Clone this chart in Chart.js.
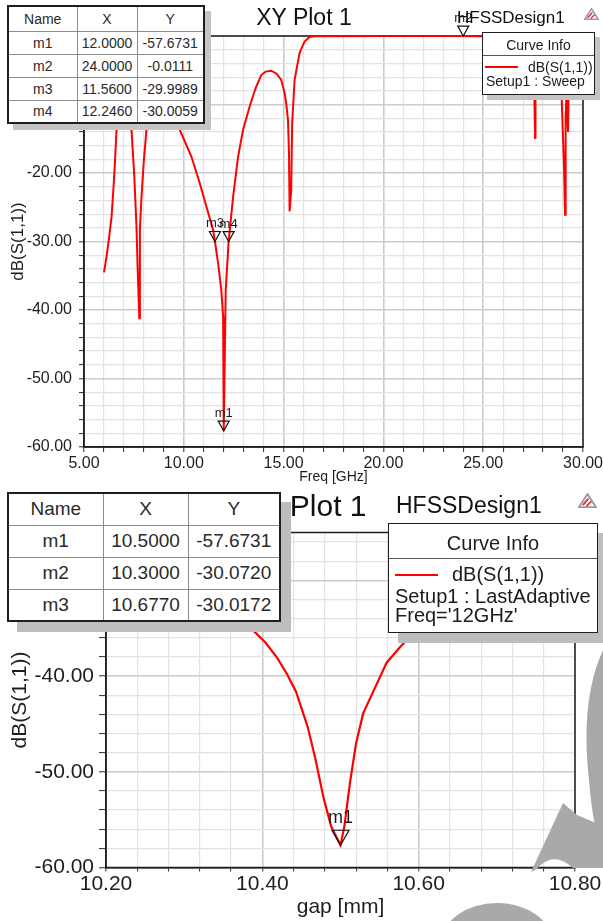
<!DOCTYPE html>
<html>
<head>
<meta charset="utf-8">
<title>HFSS XY Plot 1</title>
<script src="https://cdn.jsdelivr.net/npm/chart.js@4.4.1/dist/chart.umd.min.js"></script>
<style>
  html, body { margin:0; padding:0; background:#fff; }
  body { position:relative; width:603px; height:921px; overflow:hidden;
         font-family:"Liberation Sans", Arial, Helvetica, sans-serif; color:#1c1c1c; }
  canvas { position:absolute; left:0; display:block; }
  .t { position:absolute; white-space:nowrap; line-height:1; z-index:3; }
  .box { position:absolute; box-sizing:border-box; background:#fff; border:1.5px solid #1e1e1e; z-index:2; }
  .hdr { position:absolute; left:0; right:0; top:0; border-bottom:1px solid #555; }
  .tbl { position:absolute; z-index:2; background:#fff; }
  .tbl table { border-collapse:collapse; table-layout:fixed; border:2px solid #1e1e1e; background:#fff; color:#2a2a2a; }
  .tbl td { border:1px solid #8c8c8c; text-align:center; vertical-align:middle; padding:0; white-space:nowrap; }
  .swatch { position:absolute; background:#ff0000; z-index:3; }
</style>
</head>
<body>
<canvas id="topChart" width="603" height="486" style="top:0"></canvas>
<canvas id="botChart" width="603" height="435" style="top:486px"></canvas>

<!-- top plot texts -->
<div class="t" style="left:204px;width:200px;text-align:center;top:5.5px;font-size:23px;color:#111">XY Plot 1</div>
<div class="t" style="left:457px;top:8.9px;font-size:17px;color:#111">HFSSDesign1</div>
<svg style="position:absolute;left:584px;top:8px;z-index:3" width="15" height="12" viewBox="0 0 20 16">
  <polygon points="10,1 19,15 1,15" fill="none" stroke="#9a9a9a" stroke-width="2"/>
  <path d="M5,13 L11,6 M9,14 L14,9" stroke="#e03030" stroke-width="2"/>
</svg>

<div class="tbl" style="left:7px;top:5px;box-shadow:6px 6px 0 #c4c4c4">
  <table id="topTable" style="width:196px;height:117px;font-size:14px">
    <colgroup><col style="width:69px"><col style="width:60px"><col style="width:67px"></colgroup>
  </table>
</div>

<div class="box" style="left:482px;top:32px;width:113px;height:63px;box-shadow:5px 5px 0 #c4c4c4">
  <div class="hdr" style="height:21.5px"></div>
</div>
<div class="t" style="left:482px;width:113px;text-align:center;top:38.2px;font-size:14px">Curve Info</div>
<div class="swatch" style="left:485px;top:65.7px;width:33px;height:2px"></div>
<div class="t" style="left:528px;top:60.2px;font-size:14px">dB(S(1,1))</div>
<div class="t" style="left:486px;top:74.2px;font-size:14px">Setup1 : Sweep</div>

<!-- bottom plot texts -->
<div class="t" style="left:242px;top:491.3px;font-size:30px;color:#111;z-index:1">XY Plot 1</div>
<div class="t" style="left:396px;top:493.8px;font-size:23px;color:#111">HFSSDesign1</div>
<svg style="position:absolute;left:578px;top:493px;z-index:3" width="19" height="15" viewBox="0 0 20 16">
  <polygon points="10,1 19,15 1,15" fill="none" stroke="#9a9a9a" stroke-width="2"/>
  <path d="M5,13 L11,6 M9,14 L14,9" stroke="#e03030" stroke-width="2"/>
</svg>

<div class="tbl" style="left:7px;top:492px;box-shadow:10px 10px 0 #bdbdbd">
  <table id="botTable" style="width:272px;height:128px;font-size:19px">
    <colgroup><col style="width:95px"><col style="width:85px"><col style="width:92px"></colgroup>
  </table>
</div>

<div class="box" style="left:388px;top:523px;width:210px;height:110px;box-shadow:10px 10px 0 #bdbdbd">
  <div class="hdr" style="height:33.5px"></div>
</div>
<div class="t" style="left:388px;width:210px;text-align:center;top:532.8px;font-size:20px">Curve Info</div>
<div class="swatch" style="left:395px;top:573.8px;width:43px;height:2.5px"></div>
<div class="t" style="left:452px;top:563.5px;font-size:20px">dB(S(1,1))</div>
<div class="t" style="left:395px;top:586.4px;font-size:20px">Setup1 : LastAdaptive</div>
<div class="t" style="left:395px;top:604.8px;font-size:20px">Freq='12GHz'</div>

<!-- watermark shapes -->
<svg style="position:absolute;left:0;top:0;z-index:5;pointer-events:none" width="603" height="921">
  <g fill="#a9a9a9">
    <path d="M603,650 Q580,700 589,780 Q593,830 603,852 Z"/>
    <path d="M531,872 L563,803 L577,815 L603,826 L603,868 L573,868 Q553,850 537,869 Z"/>
    <ellipse cx="497" cy="942" rx="55" ry="39"/>
  </g>
</svg>

<script>
// ---------------- top plot: frequency sweep ----------------
const topFreq = [6.00, 6.13, 6.25, 6.38, 6.48, 6.55, 6.63, 6.72, 6.85, 7.00, 7.15, 7.30, 7.38,
  7.52, 7.63, 7.68, 7.77, 7.80, 7.88, 8.00, 8.13, 8.30, 8.60, 9.00, 9.40, 9.80,
  10.38, 10.80, 11.13, 11.47, 11.56, 11.72, 11.88, 11.97, 12.00, 12.10, 12.246, 12.47, 12.72, 12.97,
  13.30, 13.60, 13.88, 14.10, 14.38, 14.65, 14.88, 15.05, 15.13, 15.22, 15.27, 15.30, 15.38, 15.43,
  15.55, 15.80, 16.05, 16.30, 16.50, 20.00, 24.00, 27.50, 27.58, 27.60, 27.62, 27.70,
  28.85, 28.95, 29.05, 29.10, 29.13, 29.17, 29.25, 29.30, 29.50, 30.00];
const topS11 = [-34.5, -32.2, -29.6, -26.4, -22.0, -18.5, -13.7, -9.0, -5.5, -4.8, -7.0, -11.5, -13.7,
  -20.5, -27.8, -33.2, -41.2, -28.3, -23.5, -18.1, -13.7, -9.5, -6.0, -5.5, -7.5, -13.7,
  -17.6, -21.5, -24.9, -28.3, -29.9989, -33.2, -37.1, -41.0, -57.6731, -37.1, -30.0059, -23.5, -17.6, -13.7,
  -10.3, -7.6, -5.7, -5.2, -5.07, -5.5, -6.4, -8.3, -9.8, -12.3, -17.1, -25.6, -22.5, -12.7,
  -6.4, -2.5, -0.8, -0.15, -0.03, -0.01, -0.0111, -0.2, -11.5, -14.9, -3.0, -0.2,
  -0.3, -10.8, -19.1, -26.1, -12.0, -8.6, -14.0, -3.0, -0.4, -0.3];
const topMarkerNames = ['m1', 'm2', 'm3', 'm4'];
const topMarkerX = [12.0, 24.0, 11.56, 12.246];
const topMarkerY = [-57.6731, -0.0111, -29.9989, -30.0059];
const topXTickLabels = ['5.00', '10.00', '15.00', '20.00', '25.00', '30.00'];
const topYTickLabels = ['-60.00', '-50.00', '-40.00', '-30.00', '-20.00', '-10.00', '0.00'];

// ---------------- bottom plot: gap sweep at 12 GHz ----------------
const gapMm = [10.20, 10.25, 10.30, 10.34, 10.374, 10.404, 10.419, 10.431, 10.443, 10.458, 10.468,
  10.478, 10.488, 10.50, 10.505, 10.512, 10.52, 10.529, 10.542, 10.559, 10.576, 10.591,
  10.63, 10.677, 10.72, 10.76, 10.80];
const gapS11 = [-25.3, -27.6, -30.072, -32.4, -34.1, -36.5, -38.1, -39.7, -41.6, -45.3, -48.7,
  -52.6, -55.7, -57.6731, -55.7, -51.2, -47.0, -43.9, -41.6, -38.6, -37.0, -35.7,
  -33.0, -30.0172, -28.2, -26.6, -25.2];
const botMarkerNames = ['m1', 'm2', 'm3'];
const botMarkerX = [10.5, 10.3, 10.677];
const botMarkerY = [-57.6731, -30.0720, -30.0172];
const botXTickLabels = ['10.20', '10.40', '10.60', '10.80'];
const botYTickLabels = ['-60.00', '-50.00', '-40.00', '-30.00'];

// ---------------- helpers ----------------
const FONT = '"Liberation Sans", Arial, Helvetica, sans-serif';
const MINOR = '#e3e3e3', MAJOR = '#cbcbcb';

function stepTicks(min, max, step) {
  const n = Math.round((max - min) / step), out = [];
  for (let i = 0; i <= n; i++) out.push({ value: +(min + i * step).toFixed(6) });
  return out;
}
function isMajor(v, every) { const r = v / every; return Math.abs(r - Math.round(r)) < 1e-6; }

function buildTable(id, names, xs, ys, headH, rowH) {
  let html = `<tr style="height:${headH}px"><td>Name</td><td>X</td><td>Y</td></tr>`;
  names.forEach((n, i) => {
    html += `<tr style="height:${rowH}px"><td>${n}</td><td>${xs[i].toFixed(4)}</td><td>${ys[i].toFixed(4)}</td></tr>`;
  });
  document.getElementById(id).insertAdjacentHTML('beforeend', html);
}
buildTable('topTable', topMarkerNames, topMarkerX, topMarkerY, 25, 23);
buildTable('botTable', botMarkerNames, botMarkerX, botMarkerY, 32, 32);

function framePlugin(color, width) {
  return {
    id: 'frame',
    beforeDatasetsDraw(chart) {
      const { ctx, chartArea: a } = chart;
      ctx.save();
      ctx.strokeStyle = color; ctx.lineWidth = width;
      ctx.strokeRect(a.left, a.top, a.right - a.left, a.bottom - a.top);
      ctx.restore();
    }
  };
}
function markerPlugin(names, xs, ys, w, h, gap, fontSize) {
  return {
    id: 'markers',
    afterDatasetsDraw(chart) {
      const { ctx, scales } = chart;
      ctx.save();
      ctx.strokeStyle = '#111'; ctx.fillStyle = '#1a1a1a'; ctx.lineWidth = 1.2;
      ctx.font = fontSize + 'px ' + FONT; ctx.textAlign = 'center'; ctx.textBaseline = 'alphabetic';
      names.forEach((n, i) => {
        const px = scales.x.getPixelForValue(xs[i]);
        const py = scales.y.getPixelForValue(ys[i]);
        ctx.beginPath();
        ctx.moveTo(px - w / 2, py - h); ctx.lineTo(px + w / 2, py - h); ctx.lineTo(px, py); ctx.closePath();
        ctx.stroke();
        ctx.fillText(n, px, py - h - gap);
      });
      ctx.restore();
    }
  };
}

function makeChart(canvasId, cfg) {
  const gridOpts = (every, tickLen) => ({
    color: c => (c.tick && isMajor(c.tick.value, every)) ? MAJOR : MINOR,
    lineWidth: c => (c.tick && isMajor(c.tick.value, every)) ? 1.6 : 1.2,
    tickLength: tickLen, tickColor: '#2a2a2a', tickWidth: 1, drawTicks: true
  });
  return new Chart(document.getElementById(canvasId), {
    type: 'scatter',
    data: { datasets: [{
      data: cfg.xs.map((v, i) => ({ x: v, y: cfg.ys[i] })),
      showLine: true, borderColor: '#ff0000', borderWidth: cfg.lineW,
      pointRadius: 0, tension: 0, clip: 3
    }] },
    options: {
      responsive: false, animation: false, devicePixelRatio: 1, events: [],
      layout: { padding: cfg.pad },
      plugins: { legend: { display: false }, tooltip: { enabled: false }, title: { display: false } },
      scales: {
        x: {
          type: 'linear', position: 'bottom', min: cfg.xMin, max: cfg.xMax,
          afterBuildTicks: s => { s.ticks = stepTicks(cfg.xMin, cfg.xMax, cfg.xStep); },
          afterFit: s => { s.height = cfg.xH; s.paddingLeft = 0; s.paddingRight = 0; },
          ticks: {
            autoSkip: false, maxRotation: 0, minRotation: 0, padding: cfg.xTickPad, color: '#1e1e1e',
            font: { family: FONT, size: cfg.tickFont },
            callback: v => cfg.xLabels.includes(Number(v).toFixed(2)) ? Number(v).toFixed(2) : ''
          },
          grid: gridOpts(cfg.xMajor, cfg.xTickLen),
          border: { display: true, color: '#1e1e1e', width: 1.5 },
          title: { display: true, text: cfg.xTitle, color: '#1e1e1e',
                   font: { family: FONT, size: cfg.xTitleFont }, padding: { top: 0, bottom: cfg.xTitlePad } }
        },
        y: {
          type: 'linear', position: 'left', min: cfg.yMin, max: cfg.yMax,
          afterBuildTicks: s => { s.ticks = stepTicks(cfg.yMin, cfg.yTop, 2); },
          afterFit: s => { s.width = cfg.yW; s.paddingTop = 0; s.paddingBottom = 0; },
          ticks: {
            autoSkip: false, padding: cfg.yTickPad, color: '#1e1e1e',
            font: { family: FONT, size: cfg.tickFont },
            callback: v => cfg.yLabels.includes(Number(v).toFixed(2)) ? Number(v).toFixed(2) : ''
          },
          grid: gridOpts(10, cfg.yTickLen),
          border: { display: true, color: '#1e1e1e', width: 1.5 },
          title: { display: true, text: 'dB(S(1,1))', color: '#1e1e1e',
                   font: { family: FONT, size: cfg.yTitleFont }, padding: { top: cfg.yTitlePad, bottom: 0 } }
        }
      }
    },
    plugins: [framePlugin('#1e1e1e', 1.5), cfg.markers]
  });
}

makeChart('topChart', {
  xs: topFreq, ys: topS11, lineW: 2,
  pad: { top: 36, right: 20, left: 0, bottom: 0 },
  xMin: 5, xMax: 30, xStep: 1, xMajor: 5, xH: 39, xTickPad: 2, xTickLen: 5,
  xLabels: topXTickLabels, xTitle: 'Freq [GHz]', xTitleFont: 14, xTitlePad: 0.6,
  yMin: -60, yMax: 0, yTop: 0, yW: 84, yTickPad: 7, yTickLen: 5, yLabels: topYTickLabels,
  yTitleFont: 17, yTitlePad: 8.5, tickFont: 16,
  markers: markerPlugin(topMarkerNames, topMarkerX, topMarkerY, 11, 10, 4, 13)
});

makeChart('botChart', {
  xs: gapMm, ys: gapS11, lineW: 2.2,
  pad: { top: 46.5, right: 28, left: 0, bottom: 0 },
  xMin: 10.2, xMax: 10.8, xStep: 0.04, xMajor: 0.2, xH: 53.5, xTickPad: 0, xTickLen: 4,
  xLabels: botXTickLabels, xTitle: 'gap [mm]', xTitleFont: 21, xTitlePad: 1,
  yMin: -60, yMax: -25, yTop: -26, yW: 106, yTickPad: 5, yTickLen: 7, yLabels: botYTickLabels,
  yTitleFont: 21, yTitlePad: 8, tickFont: 21,
  markers: markerPlugin(botMarkerNames, botMarkerX, botMarkerY, 17, 15, 7, 18)
});
</script>
</body>
</html>
